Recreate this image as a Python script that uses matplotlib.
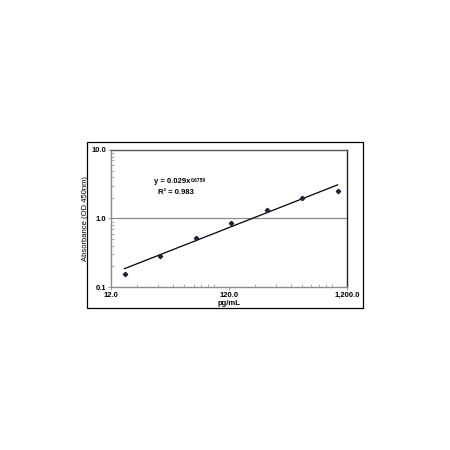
import numpy as np
import matplotlib.pyplot as plt
from matplotlib.patches import Rectangle
from matplotlib.ticker import FixedLocator, LogLocator, NullFormatter

# Стандартная кривая ELISA
conc = [15.6, 31.25, 62.5, 125.0, 250.0, 500.0, 1000.0]
absorbance = [0.157, 0.281, 0.515, 0.865, 1.32, 1.99, 2.51]
fit_a = 0.029
fit_b = 0.6759
x_ticks = [12.0, 120.0, 1200.0]
x_labels = ['12.0', '120.0', '1,200.0']
y_ticks = [0.1, 1.0, 10.0]
y_labels = ['0.1', '1.0', '10.0']

plt.rcParams['font.family'] = ['Liberation Sans', 'DejaVu Sans']

fig = plt.figure(figsize=(4.5, 4.5), dpi=100)
fig.patches.append(Rectangle((0.193, 0.316), 0.614, 0.368, transform=fig.transFigure,
                             fill=False, edgecolor='black', linewidth=0.9))

ax = fig.add_axes([0.247, 0.362, 0.524, 0.305])
ax.set_xscale('log')
ax.set_yscale('log')
ax.set_xlim(12.0, 1200.0)
ax.set_ylim(0.1, 10.0)

ax.axhline(1.0, color='#8c8c8c', linewidth=0.9)

xf = np.logspace(np.log10(conc[0]), np.log10(conc[-1]), 50)
ax.plot(xf, fit_a * xf ** fit_b, color='black', linewidth=0.9)
ax.plot(conc, absorbance, linestyle='none', marker='D', markersize=2.2,
        color='#2e1a3a')

ax.xaxis.set_major_locator(FixedLocator(x_ticks))
ax.set_xticklabels(x_labels)
ax.yaxis.set_major_locator(FixedLocator(y_ticks))
ax.set_yticklabels(y_labels)
ax.xaxis.set_minor_locator(LogLocator(base=10, subs=np.arange(2, 10)))
ax.yaxis.set_minor_locator(LogLocator(base=10, subs=np.arange(2, 10)))
ax.xaxis.set_minor_formatter(NullFormatter())
ax.yaxis.set_minor_formatter(NullFormatter())
ax.tick_params(which='major', direction='out', length=2, width=0.6, color='#8c8c8c',
               labelsize=5.5, pad=1.5)
ax.tick_params(which='minor', direction='in', length=2, width=0.5, color='#8c8c8c')
for lbl in ax.get_xticklabels() + ax.get_yticklabels():
    lbl.set_fontweight('bold')

ax.spines['left'].set_color('#8c8c8c')
ax.spines['bottom'].set_color('#8c8c8c')
ax.spines['top'].set_color('#555555')
ax.spines['right'].set_color('#222222')
for s in ax.spines.values():
    s.set_linewidth(1.0)

ax.set_xlabel('pg/mL', fontsize=5.5, fontweight='bold', labelpad=0.5)
ax.set_ylabel('Absorbance (OD 450nm)', fontsize=5.5, labelpad=2)

eq = ax.text(0.18, 0.77, 'y = 0.029x', transform=ax.transAxes,
             fontsize=5.5, fontweight='bold', va='center', ha='left')
ax.annotate('0.6759', xy=(1, 1), xycoords=eq, xytext=(0.3, 0),
            textcoords='offset points', fontsize=3.5, fontweight='bold',
            va='top', ha='left')
ax.text(0.2, 0.69, 'R² = 0.983', transform=ax.transAxes,
        fontsize=5.5, fontweight='bold', va='center', ha='left')

fig.savefig('out.png', dpi=100)
